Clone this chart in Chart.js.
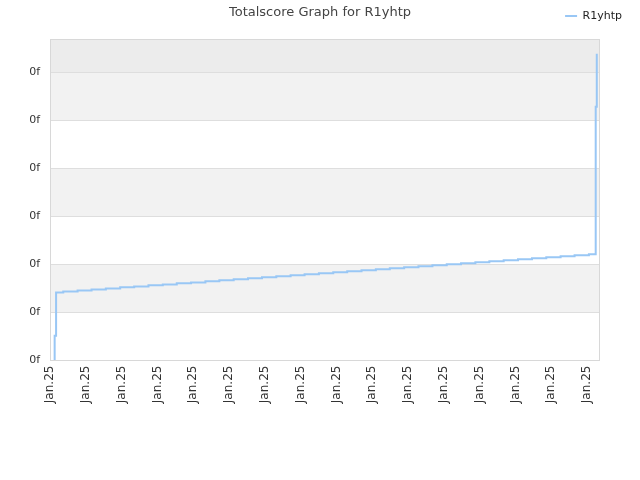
<!DOCTYPE html>
<html>
<head>
<meta charset="utf-8">
<script src="https://cdn.jsdelivr.net/npm/chart.js@4/dist/chart.umd.min.js"></script>
<style>
  html, body { margin: 0; padding: 0; background: #fff; }
  canvas { display: block; }
</style>
</head>
<body>
<canvas id="score-graph" width="640" height="480"></canvas>
<script>
const playerName = 'R1yhtp';

// x in hours from the left edge, y is the total score
const hours = [
  1.3, 1.3, 1.3, 1.7, 1.7,
  3.7, 7.7, 11.6, 15.6, 19.6, 23.5, 27.5, 31.5, 35.4, 39.4,
  43.4, 47.3, 51.3, 55.3, 59.2, 63.2, 67.2, 71.1, 75.1, 79.1,
  83.0, 87.0, 91.0, 94.9, 98.9, 102.9, 106.8, 110.8, 114.8, 118.8,
  122.7, 126.7, 130.7, 134.6, 138.6, 142.6, 146.5, 150.5,
  152.4, 152.4, 152.4, 152.7
];
const scores = [
  0, 9.7, 25.2, 39.5, 70.5,
  71.6, 72.6, 73.7, 74.7, 75.8, 76.8, 77.9, 78.9, 80.0, 81.0,
  82.1, 83.1, 84.2, 85.2, 86.3, 87.3, 88.4, 89.4, 90.5, 91.5,
  92.6, 93.6, 94.7, 95.7, 96.8, 97.8, 98.9, 99.9, 101.0, 102.0,
  103.1, 104.1, 105.2, 106.2, 107.3, 108.3, 109.3, 110.4,
  159.3, 209.6, 264.4, 319.6
];

const xTickLabels = ['Jan.25', 'Jan.25', 'Jan.25', 'Jan.25', 'Jan.25', 'Jan.25', 'Jan.25', 'Jan.25',
                     'Jan.25', 'Jan.25', 'Jan.25', 'Jan.25', 'Jan.25', 'Jan.25', 'Jan.25', 'Jan.25'];
const yTickLabels = ['0f', '0f', '0f', '0f', '0f', '0f', '0f'];

const lineColor = '#99c7f5';

// alternating background stripes between the y ticks
const bands = {
  id: 'bands',
  beforeDraw(chart) {
    const { ctx, chartArea: a, scales: { y } } = chart;
    ctx.save();
    y.ticks.forEach((t, i) => {
      const bottom = y.getPixelForValue(t.value);
      const last = i === y.ticks.length - 1;
      const top = last ? a.top : y.getPixelForValue(y.ticks[i + 1].value);
      ctx.fillStyle = last ? '#ececec' : (i % 2 ? '#f2f2f2' : '#ffffff');
      ctx.fillRect(a.left, top, a.right - a.left, bottom - top);
    });
    ctx.restore();
  },
  beforeDatasetsDraw(chart) {
    const { ctx, chartArea: a } = chart;
    ctx.save();
    ctx.strokeStyle = '#d8d8d8';
    ctx.lineWidth = 1;
    ctx.strokeRect(a.left + 0.5, a.top + 0.5, a.right - a.left - 1, a.bottom - a.top);
    ctx.restore();
  }
};

Chart.defaults.font.family = '"DejaVu Sans", sans-serif';
Chart.defaults.font.size = 11;
Chart.defaults.color = '#333';

new Chart(document.getElementById('score-graph').getContext('2d'), {
  type: 'line',
  data: {
    datasets: [{
      label: playerName,
      data: hours.map((h, i) => ({ x: h, y: scores[i] })),
      borderColor: lineColor,
      backgroundColor: lineColor,
      borderWidth: 2,
      pointRadius: 0,
      pointStyle: 'line',
      stepped: true,
      fill: false
    }]
  },
  options: {
    responsive: false,
    animation: false,
    layout: { padding: 0 },
    plugins: {
      title: {
        display: true,
        text: 'Totalscore Graph for ' + playerName,
        color: '#444',
        font: { size: 13, weight: 'normal' },
        padding: { top: 5, bottom: -28 }
      },
      legend: {
        position: 'top',
        align: 'end',
        labels: {
          usePointStyle: true,
          pointStyleWidth: 12,
          boxHeight: 11,
          padding: 18,
          color: '#222',
          font: { size: 11 }
        }
      },
      tooltip: { enabled: false }
    },
    scales: {
      x: {
        type: 'linear',
        min: 0,
        max: 153.6,
        afterFit: (s) => { s.height = 120; },
        grid: { display: false, drawTicks: false },
        border: { display: false },
        ticks: {
          stepSize: 10,
          includeBounds: false,
          autoSkip: false,
          minRotation: 90,
          maxRotation: 90,
          padding: 13,
          color: '#333',
          font: { size: 12 },
          callback: (v, i) => xTickLabels[i]
        }
      },
      y: {
        min: 0,
        max: 335,
        afterFit: (s) => { s.width = 50; },
        grid: { color: '#dedede', drawTicks: false },
        border: { display: false },
        ticks: {
          stepSize: 50,
          includeBounds: false,
          padding: 10,
          color: '#333',
          callback: (v, i) => yTickLabels[i]
        }
      },
      // empty right-hand margin next to the plot
      yRight: {
        position: 'right',
        afterFit: (s) => { s.width = 40; },
        grid: { display: false, drawTicks: false },
        border: { display: false },
        ticks: { display: false }
      }
    }
  },
  plugins: [bands]
});
</script>
</body>
</html>
